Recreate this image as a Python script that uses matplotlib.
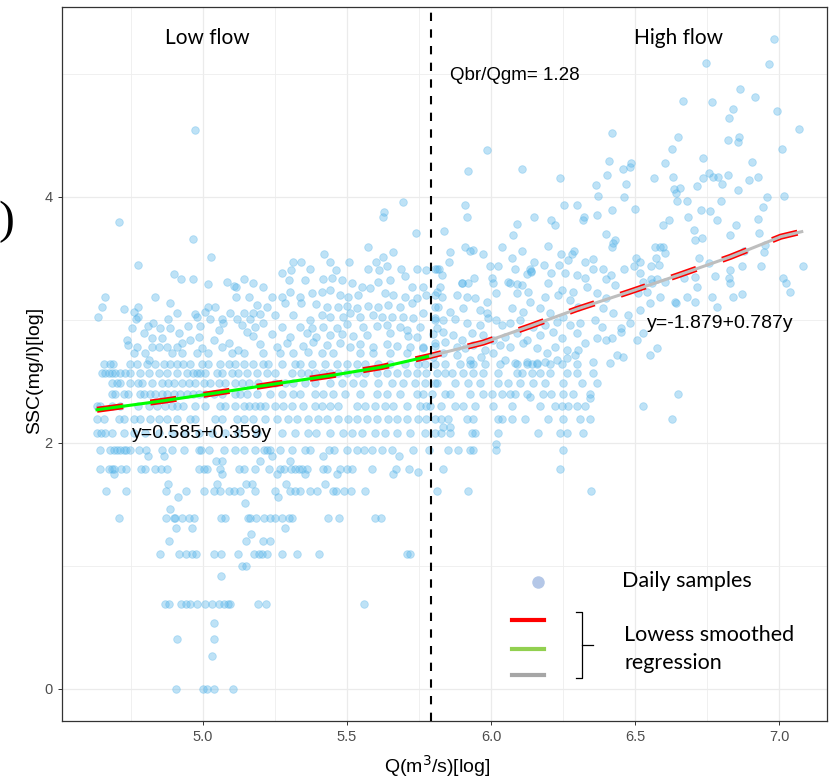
import numpy as np
import matplotlib
matplotlib.use("Agg")
import matplotlib.pyplot as plt
from matplotlib.lines import Line2D

# ---- data: x = ln Q (m3/s), y = ln SSC (mg/l) ----
# daily samples sitting on integer SSC values (mg/l), listed by ln Q
ssc_levels = [1, 2, 3, 4, 5, 6, 7, 8, 9, 10, 11, 12, 13, 14]
lnq_at_1 = [4.905, 4.999, 5.014, 5.037, 5.104]
lnq_at_2 = [4.869, 4.881, 4.925, 4.941, 4.955, 4.979, 5.008, 5.031, 5.055, 5.072,
            5.086, 5.095, 5.190, 5.219, 5.558]
lnq_at_3 = [4.851, 4.918, 4.941, 4.962, 4.977, 5.039, 5.064, 5.123, 5.177, 5.196,
            5.205, 5.223, 5.275, 5.326, 5.402, 5.708, 5.720]
lnq_at_4 = [4.709, 4.873, 4.898, 4.904, 4.927, 4.950, 4.970, 5.064, 5.077, 5.156,
            5.164, 5.184, 5.211, 5.234, 5.251, 5.274, 5.298, 5.309, 5.434, 5.471,
            5.596, 5.619]
lnq_at_5 = [4.662, 4.734, 4.873, 4.941, 5.002, 5.037, 5.060, 5.089, 5.107, 5.130,
            5.179, 5.251, 5.303, 5.320, 5.338, 5.373, 5.396, 5.451, 5.462, 5.489,
            5.515, 5.561, 5.811, 5.921, 6.346]
lnq_at_6 = [4.641, 4.673, 4.684, 4.692, 4.716, 4.734, 4.786, 4.800, 4.834, 4.855,
            4.875, 4.985, 5.002, 5.014, 5.060, 5.124, 5.141, 5.180, 5.230, 5.268,
            5.280, 5.307, 5.320, 5.334, 5.344, 5.361, 5.417, 5.431, 5.477, 5.500,
            5.517, 5.587, 5.671, 5.714, 5.834, 6.239]
lnq_at_7 = [4.641, 4.678, 4.690, 4.701, 4.713, 4.725, 4.734, 4.748, 4.777, 4.802,
            4.858, 4.892, 4.933, 4.985, 4.994, 5.020, 5.072, 5.110, 5.141, 5.182,
            5.211, 5.222, 5.234, 5.268, 5.309, 5.355, 5.373, 5.436, 5.454, 5.500,
            5.535, 5.558, 5.587, 5.622, 5.656, 5.729, 5.784, 5.852, 5.886, 5.927,
            5.938, 6.019, 6.249]
lnq_at_8 = [4.632, 4.647, 4.660, 4.684, 4.724, 4.759, 4.799, 4.846, 4.892, 4.938,
            4.985, 5.031, 5.077, 5.123, 5.186, 5.273, 5.319, 5.366, 5.394, 5.441,
            5.487, 5.516, 5.551, 5.597, 5.632, 5.672, 5.719, 5.771, 5.805, 5.828,
            5.857, 5.933, 5.944, 6.025, 6.164, 6.239, 6.263, 6.318]
lnq_at_9 = [4.632, 4.655, 4.707, 4.724, 4.759, 4.782, 4.817, 4.846, 4.875, 4.909,
            4.956, 4.973, 5.042, 5.066, 5.118, 5.141, 5.175, 5.215, 5.256, 5.296,
            5.325, 5.366, 5.400, 5.429, 5.470, 5.504, 5.533, 5.568, 5.603, 5.643,
            5.672, 5.707, 5.747, 5.776, 5.805, 5.828, 5.852, 5.915, 5.938, 6.025,
            6.037, 6.072, 6.118, 6.199, 6.251, 6.309, 6.344, 6.627]
lnq_at_10 = [4.632, 4.643, 4.684, 4.713, 4.776, 4.811, 4.840, 4.869, 4.892, 4.909,
             4.932, 4.973, 5.008, 5.060, 5.077, 5.112, 5.141, 5.158, 5.180, 5.198,
             5.215, 5.250, 5.279, 5.308, 5.348, 5.389, 5.412, 5.441, 5.470, 5.533,
             5.562, 5.597, 5.632, 5.661, 5.707, 5.753, 5.776, 5.788, 5.828, 5.875,
             5.904, 5.944, 6.008, 6.072, 6.170, 6.222, 6.245, 6.268, 6.297, 6.326,
             6.529]
lnq_at_11 = [4.684, 4.695, 4.724, 4.741, 4.782, 4.794, 4.817, 4.834, 4.857, 4.875,
             4.898, 4.921, 4.944, 4.967, 4.985, 5.008, 5.037, 5.066, 5.112, 5.129,
             5.152, 5.186, 5.232, 5.273, 5.313, 5.337, 5.389, 5.418, 5.452, 5.493,
             5.545, 5.603, 5.638, 5.684, 5.742, 5.765, 5.794, 5.840, 5.857, 5.927,
             5.973, 6.002, 6.037, 6.066, 6.083, 6.124, 6.182, 6.210, 6.251, 6.286,
             6.344, 6.650]
lnq_at_12 = [4.684, 4.701, 4.713, 4.747, 4.776, 4.788, 4.823, 4.857, 4.880, 4.898,
             4.927, 4.950, 4.973, 5.002, 5.025, 5.054, 5.077, 5.112, 5.135, 5.158,
             5.192, 5.250, 5.285, 5.313, 5.354, 5.389, 5.441, 5.481, 5.522, 5.557,
             5.609, 5.655, 5.695, 5.736, 5.771, 5.805, 5.811, 5.875, 5.921, 5.962,
             6.025, 6.060, 6.100, 6.147, 6.187, 6.251, 6.315, 6.367]
lnq_at_13 = [4.649, 4.660, 4.672, 4.684, 4.695, 4.713, 4.730, 4.747, 4.782, 4.811,
             4.846, 4.875, 4.909, 4.944, 4.967, 4.979, 4.990, 5.008, 5.048, 5.066,
             5.100, 5.123, 5.152, 5.186, 5.221, 5.250, 5.308, 5.342, 5.366, 5.389,
             5.418, 5.441, 5.470, 5.499, 5.533, 5.562, 5.603, 5.638, 5.672, 5.707,
             5.742, 5.776, 5.811, 5.840, 5.863, 5.904, 5.938, 5.973, 6.025, 6.089,
             6.106, 6.141, 6.170, 6.205, 6.263, 6.297, 6.355]
lnq_at_14 = [4.655, 4.678, 4.689, 4.747, 4.770, 4.805, 4.834, 4.863, 4.886, 4.909,
             4.932, 4.956, 4.996, 5.019, 5.060, 5.089, 5.112, 5.141, 5.175, 5.209,
             5.227, 5.273, 5.319, 5.337, 5.377, 5.423, 5.464, 5.499, 5.533, 5.562,
             5.609, 5.649, 5.701, 5.747, 5.771, 5.805, 5.840, 5.892, 5.927, 5.938,
             5.979, 6.031, 6.089, 6.124, 6.141, 6.158, 6.205, 6.245, 6.297]
lnq_rows = [lnq_at_1, lnq_at_2, lnq_at_3, lnq_at_4, lnq_at_5, lnq_at_6, lnq_at_7,
            lnq_at_8, lnq_at_9, lnq_at_10, lnq_at_11, lnq_at_12, lnq_at_13, lnq_at_14]

# other daily samples (ln Q, ln SSC), low part of the cloud
pts_low_misc = [(5.037, 0.537), (4.911, 0.41), (5.039, 0.41), (5.030, 0.268), (5.136, 1.0),
                (5.150, 1.0), (5.063, 0.92), (4.881, 1.20), (5.150, 1.20), (5.207, 1.20),
                (5.234, 1.20), (5.168, 1.26), (4.905, 1.31), (4.962, 1.31), (5.286, 1.31),
                (4.886, 1.46), (5.147, 1.51), (4.912, 1.56), (5.262, 1.56), (4.880, 1.67),
                (5.048, 1.67), (5.150, 1.67), (5.169, 1.67), (5.288, 1.67), (5.422, 1.67),
                (4.692, 1.75), (5.066, 1.75), (5.258, 1.75), (5.355, 1.75), (5.465, 1.75),
                (5.661, 1.75), (5.748, 1.76), (4.809, 1.89), (4.866, 1.89), (5.241, 1.89),
                (5.416, 1.89), (5.680, 1.89), (5.046, 1.85), (5.066, 1.85), (5.301, 1.85),
                (5.197, 1.85), (6.019, 1.992), (5.834, 2.133), (5.857, 2.133), (6.135, 2.377),
                (6.344, 2.363)]

# low-flow samples above SSC = 14 mg/l
pts_low_a = [(4.972, 4.545), (4.707, 3.794), (4.967, 3.661), (4.776, 3.444), (5.029, 3.509),
             (4.898, 3.377), (4.924, 3.333), (4.967, 3.336), (5.019, 3.292), (5.083, 3.311),
             (5.106, 3.276), (5.114, 3.265), (5.144, 3.333), (4.660, 3.184), (4.834, 3.184),
             (4.886, 3.141), (5.114, 3.184), (5.158, 3.184), (4.651, 3.103), (4.635, 3.021),
             (4.724, 3.089), (4.759, 3.068), (4.776, 3.103), (4.776, 3.021), (4.753, 2.937),
             (4.736, 2.837), (4.741, 2.797), (4.767, 3.005), (4.809, 2.951), (4.828, 2.973),
             (4.851, 2.932), (4.880, 3.005), (4.886, 2.932), (4.909, 3.054), (4.915, 2.891),
             (4.948, 2.951), (4.973, 3.049), (4.979, 3.021), (4.990, 2.951), (5.008, 3.068),
             (5.019, 3.103), (5.025, 3.005), (5.042, 3.103), (5.054, 2.918), (5.066, 3.005),
             (5.071, 2.973), (5.094, 3.054), (5.118, 3.005), (5.135, 2.959), (5.141, 3.054),
             (5.152, 2.905), (5.164, 3.005), (4.794, 2.897), (4.823, 2.851), (4.857, 2.851),
             (4.875, 2.783), (4.892, 2.729), (4.927, 2.810), (4.956, 2.837), (4.985, 2.864),
             (4.996, 2.769), (5.019, 2.729), (5.037, 2.837), (5.066, 2.783), (5.089, 2.810),
             (5.100, 2.729), (5.123, 2.756), (5.141, 2.729), (4.759, 2.729), (4.799, 2.729),
             (4.823, 2.783), (4.909, 2.783), (4.927, 2.729), (4.979, 2.729), (4.811, 2.675),
             (4.846, 2.783), (4.770, 2.783)]
pts_low_b = [(5.693, 3.962), (5.629, 3.881), (5.624, 3.840), (5.739, 3.705), (5.574, 3.596),
             (5.420, 3.536), (5.624, 3.515), (5.658, 3.555), (5.313, 3.471), (5.340, 3.471),
             (5.441, 3.471), (5.508, 3.471), (5.600, 3.471), (5.638, 3.439), (5.686, 3.412),
             (5.742, 3.412), (5.276, 3.379), (5.304, 3.406), (5.371, 3.412), (5.462, 3.406),
             (5.574, 3.412), (5.612, 3.406), (5.701, 3.358), (5.774, 3.406), (5.811, 3.412),
             (5.175, 3.303), (5.207, 3.265), (5.300, 3.325), (5.354, 3.325), (5.415, 3.330),
             (5.447, 3.339), (5.481, 3.325), (5.516, 3.303), (5.551, 3.271), (5.609, 3.311),
             (5.649, 3.325), (5.724, 3.271), (5.765, 3.271), (5.811, 3.230), (5.238, 3.190),
             (5.273, 3.184), (5.302, 3.230), (5.337, 3.190), (5.377, 3.217), (5.412, 3.230),
             (5.441, 3.244), (5.476, 3.203), (5.504, 3.190), (5.539, 3.203), (5.580, 3.257),
             (5.632, 3.217), (5.661, 3.203), (5.701, 3.184), (5.742, 3.176), (5.776, 3.203),
             (5.186, 3.122), (5.221, 3.108), (5.285, 3.135), (5.342, 3.141), (5.394, 3.130),
             (5.429, 3.108), (5.470, 3.108), (5.499, 3.114), (5.533, 3.095), (5.574, 3.114),
             (5.609, 3.108), (5.643, 3.122), (5.684, 3.108), (5.724, 3.135), (5.765, 3.054),
             (5.805, 3.108), (5.172, 3.054), (5.198, 3.049), (5.250, 3.040), (5.311, 3.040),
             (5.371, 3.000), (5.412, 3.040), (5.441, 3.027), (5.485, 3.027), (5.510, 3.054),
             (5.545, 3.027), (5.591, 3.040), (5.620, 3.027), (5.655, 3.021), (5.695, 3.021),
             (5.730, 3.013), (5.805, 3.000), (5.180, 2.946), (5.209, 2.973), (5.273, 2.946),
             (5.337, 2.946), (5.377, 2.932), (5.418, 2.946), (5.464, 2.932), (5.499, 2.967),
             (5.557, 2.946), (5.603, 2.951), (5.638, 2.959), (5.684, 2.946), (5.707, 2.918),
             (5.753, 2.946), (5.811, 2.932), (5.175, 2.870), (5.238, 2.886), (5.302, 2.859),
             (5.360, 2.897), (5.394, 2.864), (5.441, 2.878), (5.481, 2.886), (5.522, 2.870),
             (5.568, 2.878), (5.649, 2.897), (5.713, 2.870), (5.742, 2.864), (5.800, 2.886),
             (5.198, 2.805), (5.256, 2.783), (5.290, 2.810), (5.348, 2.788), (5.383, 2.824),
             (5.429, 2.797), (5.476, 2.810), (5.510, 2.783), (5.545, 2.805), (5.591, 2.783),
             (5.638, 2.805), (5.672, 2.788), (5.719, 2.783), (5.765, 2.783), (5.805, 2.788),
             (5.209, 2.729), (5.267, 2.729), (5.313, 2.729), (5.366, 2.742), (5.412, 2.729),
             (5.452, 2.729), (5.545, 2.729), (5.591, 2.729), (5.649, 2.729), (5.707, 2.729),
             (5.765, 2.769)]

# high-flow samples
pts_high_a = [(6.984, 5.285), (6.966, 5.082), (6.745, 5.090), (6.866, 4.881), (6.916, 4.813),
              (6.668, 4.781), (6.769, 4.773), (6.841, 4.716), (6.992, 4.697), (6.826, 4.643),
              (7.069, 4.556), (6.420, 4.521), (6.650, 4.488), (6.862, 4.488), (6.824, 4.461),
              (6.859, 4.445), (5.986, 4.380), (6.627, 4.391), (7.009, 4.391), (6.410, 4.296),
              (6.737, 4.315), (6.905, 4.288), (6.487, 4.277), (6.459, 4.231), (5.921, 4.215),
              (6.106, 4.231), (6.482, 4.242), (6.603, 4.274), (6.404, 4.182), (6.239, 4.155),
              (6.567, 4.155), (6.631, 4.166), (6.756, 4.198), (6.824, 4.177), (6.927, 4.163),
              (6.737, 4.155), (6.772, 4.160), (6.787, 4.160), (6.895, 4.139), (6.803, 4.106),
              (6.363, 4.095), (6.469, 4.106), (6.635, 4.065), (6.656, 4.071), (6.714, 4.090),
              (6.859, 4.057), (6.371, 4.011), (6.644, 4.030), (6.959, 3.998), (6.463, 3.998),
              (7.017, 4.011), (6.679, 3.971), (6.647, 3.965), (6.798, 3.965), (6.253, 3.938),
              (6.298, 3.938), (5.911, 3.938), (6.943, 3.916), (6.500, 3.905), (6.419, 3.897),
              (6.760, 3.889), (6.728, 3.895), (5.915, 3.835), (6.149, 3.835), (6.210, 3.813),
              (6.222, 3.770), (6.323, 3.835), (6.318, 3.813), (6.367, 3.857), (6.685, 3.835),
              (6.783, 3.813), (6.927, 3.822), (6.617, 3.813), (6.596, 3.773), (6.092, 3.778),
              (6.851, 3.770), (5.837, 3.727), (6.077, 3.694), (6.398, 3.697), (6.706, 3.729),
              (6.931, 3.710), (6.830, 3.689), (5.910, 3.594), (5.936, 3.567), (5.927, 3.559),
              (6.037, 3.594), (6.199, 3.602), (6.422, 3.626), (6.432, 3.648), (6.419, 3.594),
              (6.570, 3.597), (6.587, 3.597), (6.597, 3.597), (6.710, 3.648), (6.734, 3.664),
              (5.859, 3.556), (5.971, 3.537), (6.106, 3.564), (6.242, 3.537), (6.280, 3.537),
              (6.288, 3.559), (6.604, 3.545), (6.879, 3.559), (6.948, 3.553), (5.854, 3.469),
              (5.997, 3.442), (6.025, 3.442), (6.072, 3.504), (6.083, 3.418), (6.135, 3.415),
              (6.140, 3.388), (6.149, 3.472), (6.184, 3.448), (6.237, 3.448), (6.268, 3.488),
              (6.326, 3.472), (6.354, 3.499), (6.353, 3.418), (6.390, 3.418), (6.463, 3.415),
              (6.496, 3.442), (6.504, 3.504), (6.517, 3.469), (6.557, 3.442), (6.573, 3.504),
              (6.584, 3.448), (6.722, 3.504), (6.758, 3.464), (6.870, 3.442), (6.938, 3.442),
              (6.951, 3.613), (7.082, 3.442), (5.804, 3.415), (5.820, 3.412), (5.829, 3.366),
              (5.942, 3.342), (5.898, 3.301), (5.921, 3.301), (6.002, 3.342), (6.060, 3.307),
              (6.089, 3.296), (6.126, 3.374), (6.138, 3.396), (6.207, 3.382), (6.257, 3.380),
              (6.300, 3.366), (6.325, 3.339), (6.401, 3.336), (6.418, 3.363), (6.517, 3.380),
              (6.529, 3.307), (6.555, 3.334), (6.577, 3.336), (6.670, 3.342), (6.710, 3.347),
              (6.778, 3.355), (6.827, 3.342), (6.830, 3.410), (7.015, 3.342)]
pts_high_b = [(5.823, 3.271), (5.898, 3.303), (6.008, 3.303), (6.066, 3.303), (6.106, 3.284),
              (6.129, 3.230), (6.199, 3.303), (6.245, 3.244), (6.286, 3.230), (6.332, 3.271),
              (6.430, 3.284), (6.558, 3.303), (6.604, 3.311), (6.714, 3.271), (6.830, 3.303),
              (7.026, 3.303), (7.038, 3.225), (5.805, 3.203), (5.829, 3.190), (5.881, 3.203),
              (5.915, 3.190), (5.944, 3.176), (5.985, 3.149), (6.019, 3.222), (6.089, 3.217),
              (6.135, 3.149), (6.187, 3.190), (6.234, 3.203), (6.274, 3.162), (6.367, 3.217),
              (6.401, 3.176), (6.511, 3.217), (6.540, 3.230), (6.587, 3.190), (6.639, 3.149),
              (6.679, 3.190), (6.708, 3.149), (6.766, 3.190), (6.841, 3.190), (6.870, 3.208),
              (6.783, 3.108), (5.817, 3.108), (5.857, 3.068), (5.904, 3.095), (5.962, 3.081),
              (5.985, 3.054), (6.019, 3.000), (6.072, 3.095), (6.112, 3.068), (6.170, 3.095),
              (6.205, 3.054), (6.251, 3.027), (6.303, 3.108), (6.390, 3.095), (6.425, 3.054),
              (6.477, 3.040), (6.517, 3.081), (6.552, 3.135), (6.644, 3.141), (5.805, 3.013),
              (5.834, 3.000), (5.875, 3.008), (5.915, 2.973), (5.962, 2.959), (5.991, 3.013),
              (6.037, 2.959), (6.066, 2.973), (6.100, 3.000), (6.147, 2.946), (6.187, 2.959),
              (6.228, 2.986), (6.274, 2.959), (6.309, 2.973), (6.361, 3.000), (6.384, 2.946),
              (6.453, 2.932), (6.482, 2.973), (6.529, 2.891), (6.506, 2.837), (5.834, 2.905),
              (5.869, 2.878), (5.898, 2.837), (5.933, 2.891), (5.973, 2.878), (6.008, 2.837),
              (6.048, 2.864), (6.089, 2.891), (6.124, 2.837), (6.170, 2.878), (6.216, 2.905),
              (6.245, 2.851), (6.297, 2.891), (6.326, 2.810), (6.367, 2.851), (6.401, 2.837),
              (6.419, 2.851), (6.453, 2.905), (5.805, 2.810), (5.840, 2.824), (5.881, 2.783),
              (5.910, 2.769), (5.938, 2.797), (5.979, 2.756), (6.031, 2.797), (6.066, 2.783),
              (6.112, 2.810), (6.158, 2.769), (6.193, 2.729), (6.222, 2.783), (6.263, 2.756),
              (6.303, 2.756), (6.355, 2.661), (6.413, 2.648), (6.436, 2.715), (6.459, 2.702),
              (6.552, 2.715), (6.575, 2.769), (5.800, 2.702), (5.834, 2.729), (5.881, 2.715),
              (5.927, 2.675), (5.967, 2.702), (6.008, 2.729), (6.048, 2.675), (6.083, 2.648),
              (6.124, 2.661), (6.158, 2.648), (6.187, 2.661), (6.228, 2.675), (6.263, 2.688),
              (6.291, 2.715)]

# lowess curves
low_fit_x = [4.632, 4.865, 5.061, 5.256, 5.441, 5.620, 5.790]
low_fit_y = [2.270, 2.344, 2.412, 2.482, 2.547, 2.617, 2.708]
high_fit_x = [5.790, 5.973, 6.141, 6.300, 6.477, 6.653, 6.830, 7.006, 7.079]
high_fit_y = [2.708, 2.816, 2.954, 3.090, 3.226, 3.366, 3.512, 3.677, 3.718]
q_break = 5.79

# ---- assemble scatter ----
xs, ys = [], []
for lev, row in zip(ssc_levels, lnq_rows):
    xs += row
    ys += [np.log(lev)] * len(row)
for grp in (pts_low_misc, pts_low_a, pts_low_b, pts_high_a, pts_high_b):
    xs += [p[0] for p in grp]
    ys += [p[1] for p in grp]

W, H = 838, 778
fig = plt.figure(figsize=(W / 100, H / 100), dpi=100)

def fx(px):
    return px / W

def fy(py):
    return 1 - py / H

ax = fig.add_axes([fx(61.7), fy(720.7), (826.7 - 61.7) / W, (720.7 - 7.3) / H])
ax.set_xlim(4.5094, 7.1656)
ax.set_ylim(-0.258, 5.542)

ax.set_xticks([5.0, 5.5, 6.0, 6.5, 7.0])
ax.set_xticklabels(["5.0", "5.5", "6.0", "6.5", "7.0"])
ax.set_xticks([4.75, 5.25, 5.75, 6.25, 6.75], minor=True)
ax.set_yticks([0, 2, 4])
ax.set_yticks([1, 3, 5], minor=True)
ax.grid(which="major", color="#EBEBEB", lw=0.9, zorder=0)
ax.grid(which="minor", color="#EEEEEE", lw=0.6, zorder=0)
ax.set_axisbelow(True)
ax.tick_params(which="major", length=3, width=0.7, color="#333333",
               labelsize=10.5, labelcolor="#4D4D4D")
ax.tick_params(which="minor", length=0)
for lab in ax.get_xticklabels() + ax.get_yticklabels():
    lab.set_family("Liberation Sans")
for s in ax.spines.values():
    s.set_color("#333333")
    s.set_linewidth(0.9)

ax.scatter(xs, ys, s=30, color="#56B4E9", alpha=0.38, edgecolor="#56B4E9",
           linewidth=0.6, zorder=2)

# red dashed lowess underneath, green/gray on top
ax.plot(low_fit_x + high_fit_x[1:], low_fit_y + high_fit_y[1:], color="#FF0000",
        lw=4.4, ls=(0, (4.3, 4.5)), solid_capstyle="butt", zorder=3)
ax.plot(low_fit_x, low_fit_y, color="#00FF00", lw=2.2, zorder=4)
ax.plot(high_fit_x, high_fit_y, color="#BEBEBE", lw=2.2, zorder=4)
ax.axvline(q_break, color="black", lw=1.5, ls=(0, (4, 4)), zorder=5)

# ---- annotations ----
cal = "Lato"
ari = "Liberation Sans"
fig.text(fx(165), fy(44), "Low flow", fontsize=15, family=cal, va="baseline")
fig.text(fx(634), fy(44), "High flow", fontsize=15, family=cal, va="baseline")
fig.text(fx(450), fy(80), "Qbr/Qgm= 1.28", fontsize=13.5, family=ari, va="baseline")
fig.text(fx(131.7), fy(438.3), "y=0.585+0.359y", fontsize=14, family=ari, va="baseline")
fig.text(fx(647.3), fy(328.3), "y=-1.879+0.787y", fontsize=14, family=ari, va="baseline")

fig.text(fx(437), fy(766), "Q(m$^3$/s)[log]", fontsize=14, family=ari,
         ha="center", va="center")
fig.text(fx(35), fy(370), "SSC(mg/l)[log]", fontsize=14, family=ari,
         rotation=90, ha="center", va="center")
fig.text(fx(14), fy(222), ")", fontsize=34, family="Liberation Serif",
         ha="right", va="center")

# legend drawn by hand
fig.add_artist(Line2D([fx(538)], [fy(582)], marker="o", ms=9, color="#B4C7E7",
                      markeredgewidth=0))
fig.text(fx(621.7), fy(586.7), "Daily samples", fontsize=15.5, family=cal, va="baseline")
for py, c in [(619.7, "#FF0000"), (648.7, "#92D050"), (674.7, "#A6A6A6")]:
    fig.add_artist(Line2D([fx(511.7), fx(544)], [fy(py), fy(py)], color=c, lw=3))
bx = 581.7
fig.add_artist(Line2D([fx(576), fx(bx), fx(bx), fx(576)],
                      [fy(611.7), fy(611.7), fy(678.3), fy(678.3)], color="black", lw=0.9))
fig.add_artist(Line2D([fx(bx), fx(593)], [fy(645), fy(645)], color="black", lw=0.9))
fig.text(fx(624), fy(640.7), "Lowess smoothed", fontsize=15.5, family=cal, va="baseline")
fig.text(fx(624), fy(669), "regression", fontsize=15.5, family=cal, va="baseline")

fig.savefig("out.png", dpi=100)
